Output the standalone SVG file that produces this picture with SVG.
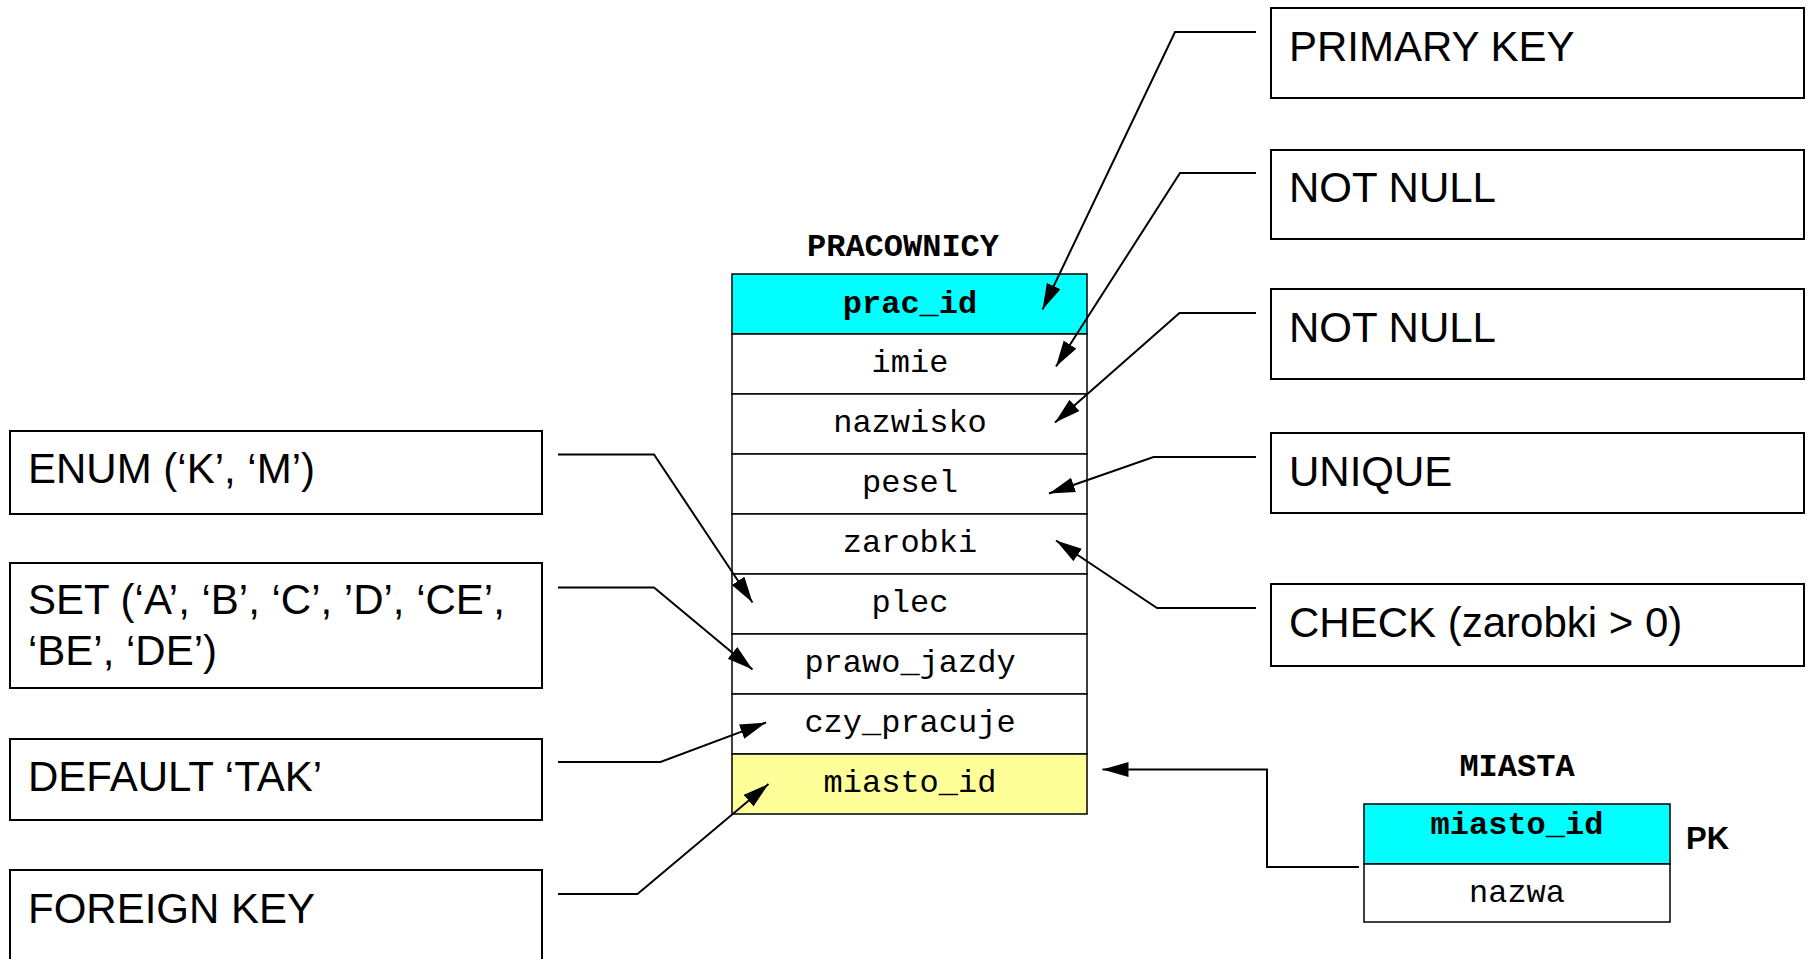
<svg xmlns="http://www.w3.org/2000/svg" width="1810" height="959" viewBox="0 0 1810 959">
  <defs>
    <marker id="arrow" markerUnits="userSpaceOnUse" markerWidth="27" markerHeight="16" refX="26" refY="7.5" orient="auto">
      <path d="M0,0 L26,7.5 L0,15 z" fill="#000"/>
    </marker>
  </defs>
  <style>
    .note rect { fill: #fff; stroke: #000; stroke-width: 2; }
    .note text { font-family: "Liberation Sans", Arial, sans-serif; font-size: 42px; fill: #000; }
    .cell { stroke: #000; stroke-width: 1.5; }
    .pk { fill: #00ffff; }
    .plain { fill: #fff; }
    .fk { fill: #ffff99; }
    .col { font-family: "Courier New", "Liberation Mono", monospace; font-size: 32px; text-anchor: middle; fill: #000; }
    .key { font-weight: bold; }
    .title { font-family: "Courier New", "Liberation Mono", monospace; font-weight: bold; font-size: 32px; text-anchor: middle; fill: #000; }
    .conn { fill: none; stroke: #000; stroke-width: 2; marker-end: url(#arrow); }
  </style>

  <rect x="0" y="0" width="1810" height="959" fill="#fff"/>

  <!-- PRACOWNICY table -->
  <g id="table-pracownicy">
    <text class="title" x="903" y="256">PRACOWNICY</text>
    <rect class="cell pk" x="732" y="274" width="355" height="60"/>
    <rect class="cell plain" x="732" y="334" width="355" height="60"/>
    <rect class="cell plain" x="732" y="394" width="355" height="60"/>
    <rect class="cell plain" x="732" y="454" width="355" height="60"/>
    <rect class="cell plain" x="732" y="514" width="355" height="60"/>
    <rect class="cell plain" x="732" y="574" width="355" height="60"/>
    <rect class="cell plain" x="732" y="634" width="355" height="60"/>
    <rect class="cell plain" x="732" y="694" width="355" height="60"/>
    <rect class="cell fk" x="732" y="754" width="355" height="60"/>
    <text class="col key" x="910" y="313">prac_id</text>
    <text class="col" x="910" y="372">imie</text>
    <text class="col" x="910" y="432">nazwisko</text>
    <text class="col" x="910" y="492">pesel</text>
    <text class="col" x="910" y="552">zarobki</text>
    <text class="col" x="910" y="612">plec</text>
    <text class="col" x="910" y="672">prawo_jazdy</text>
    <text class="col" x="910" y="732">czy_pracuje</text>
    <text class="col" x="910" y="792">miasto_id</text>
  </g>

  <!-- MIASTA table -->
  <g id="table-miasta">
    <text class="title" x="1517" y="776">MIASTA</text>
    <rect class="cell pk" x="1364" y="804" width="306" height="60"/>
    <rect class="cell plain" x="1364" y="864" width="306" height="58"/>
    <text class="col key" x="1517" y="834">miasto_id</text>
    <text class="col" x="1517" y="902">nazwa</text>
    <text x="1686" y="849" font-family="'Liberation Sans', Arial, sans-serif" font-weight="bold" font-size="31" fill="#000">PK</text>
  </g>

  <!-- constraint notes, right column -->
  <g id="note-primary-key" class="note">
    <rect x="1271" y="8" width="533" height="90"/>
    <text x="1289" y="61">PRIMARY KEY</text>
  </g>
  <g id="note-not-null-imie" class="note">
    <rect x="1271" y="150" width="533" height="89"/>
    <text x="1289" y="202">NOT NULL</text>
  </g>
  <g id="note-not-null-nazwisko" class="note">
    <rect x="1271" y="289" width="533" height="90"/>
    <text x="1289" y="342">NOT NULL</text>
  </g>
  <g id="note-unique" class="note">
    <rect x="1271" y="433" width="533" height="80"/>
    <text x="1289" y="486">UNIQUE</text>
  </g>
  <g id="note-check" class="note">
    <rect x="1271" y="584" width="533" height="82"/>
    <text x="1289" y="637">CHECK (zarobki &gt; 0)</text>
  </g>

  <!-- constraint notes, left column -->
  <g id="note-enum" class="note">
    <rect x="10" y="431" width="532" height="83"/>
    <text x="28" y="483">ENUM (‘K’, ‘M’)</text>
  </g>
  <g id="note-set" class="note">
    <rect x="10" y="563" width="532" height="125"/>
    <text x="28" y="614">SET (‘A’, ‘B’, ‘C’, ’D’, ‘CE’,</text>
    <text x="28" y="665">‘BE’, ‘DE’)</text>
  </g>
  <g id="note-default" class="note">
    <rect x="10" y="739" width="532" height="81"/>
    <text x="28" y="791">DEFAULT ‘TAK’</text>
  </g>
  <g id="note-foreign-key" class="note">
    <rect x="10" y="870" width="532" height="110"/>
    <text x="28" y="923">FOREIGN KEY</text>
  </g>

  <!-- connectors -->
  <g id="connectors">
    <path class="conn" d="M1256,32 H1175 L1042.5,309.5"/>
    <path class="conn" d="M1256,173 H1180 L1056,366.5"/>
    <path class="conn" d="M1256,313 H1179.5 L1055,422.5"/>
    <path class="conn" d="M1256,457 H1153.5 L1049,493.5"/>
    <path class="conn" d="M1256,608 H1157 L1056,540.5"/>
    <path class="conn" d="M558,454.5 H654 L752.5,602.5"/>
    <path class="conn" d="M558,587.5 H654 L752.5,669.5"/>
    <path class="conn" d="M558,762 H660.5 L766,722.5"/>
    <path class="conn" d="M558,894 H637.5 L768.5,784"/>
    <path class="conn" d="M1359,867 H1267 V769.5 H1102.5"/>
  </g>
</svg>
